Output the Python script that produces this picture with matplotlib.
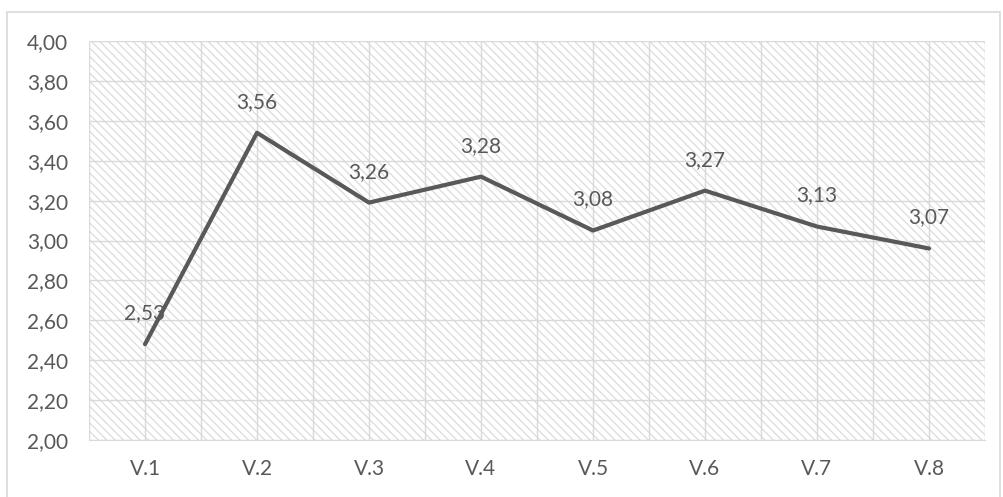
import matplotlib
matplotlib.use("Agg")
import matplotlib.pyplot as plt
import numpy as np
from matplotlib.patches import Rectangle

categories = ["V.1", "V.2", "V.3", "V.4", "V.5", "V.6", "V.7", "V.8"]
values = [2.48, 3.54, 3.19, 3.32, 3.05, 3.25, 3.07, 2.96]
labels = ["2,53", "3,56", "3,26", "3,28", "3,08", "3,27", "3,13", "3,07"]
yticks = [2.0, 2.2, 2.4, 2.6, 2.8, 3.0, 3.2, 3.4, 3.6, 3.8, 4.0]

TEXT = "#595959"
GRID = "#d9d9d9"

plt.rcParams["font.family"] = ["Lato", "DejaVu Sans"]
plt.rcParams["hatch.linewidth"] = 0.9

fig = plt.figure(figsize=(10.04, 4.97), dpi=100)
ax = fig.add_axes([89 / 1004, 1 - 440 / 497, 896 / 1004, 399 / 497])

# hatched plot-area background
ax.add_patch(Rectangle((0, 0), 1, 1, transform=ax.transAxes, facecolor="white",
                       edgecolor="#dcdcdc", hatch="\\\\\\\\", linewidth=0, zorder=0))

x = np.arange(len(categories))
ax.plot(x, values, color=TEXT, lw=3, solid_joinstyle="round", solid_capstyle="round", zorder=3)
for xi, v, lab in zip(x, values, labels):
    ax.annotate(lab, (xi, v), xytext=(0, 31), textcoords="offset pixels",
                ha="center", va="center", fontsize=15, color=TEXT, zorder=4)

ax.set_xlim(-0.5, len(categories) - 0.5)
ax.set_ylim(2.0, 4.0)
ax.set_xticks(x, categories)
ax.set_xticks(np.arange(-0.5, len(categories), 1), minor=True)
ax.set_yticks(yticks, [f"{t:.2f}".replace(".", ",") for t in yticks])
ax.grid(True, which="both", color=GRID, lw=1, zorder=1)
ax.set_axisbelow(True)
ax.tick_params(which="both", length=0, colors=TEXT, labelsize=15)
ax.tick_params(axis="x", pad=14)
ax.tick_params(axis="y", pad=15)
for s in ["top", "right", "left"]:
    ax.spines[s].set_visible(False)
ax.spines["bottom"].set_color(GRID)
ax.set_facecolor("white")

# outer chart border
fig.patches.append(Rectangle((7 / 1004, -0.01), 993 / 1004, 1 - 12 / 497 + 0.01,
                             transform=fig.transFigure, fill=False, edgecolor=GRID, lw=1.2))

fig.savefig("out.png", dpi=100)
